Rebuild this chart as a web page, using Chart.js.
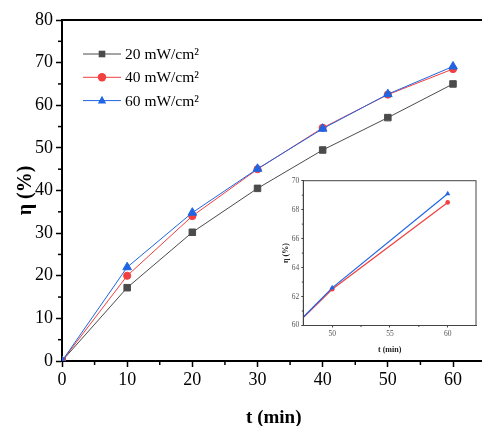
<!DOCTYPE html>
<html><head><meta charset="utf-8">
<script src="https://cdn.jsdelivr.net/npm/chart.js@4.4.0/dist/chart.umd.min.js"></script>
<style>
html,body{margin:0;padding:0;background:#fff;overflow:hidden;width:482px;height:426px;position:relative}
#main{position:absolute;left:0;top:0;width:500px;height:426px}
#inset{position:absolute;left:262px;top:170px;width:218px;height:190px}
</style></head><body>
<div id="main"><canvas id="c1"></canvas></div>
<div id="inset"><canvas id="c2"></canvas></div>
<script>
// ---- data ----
const times = [0, 10, 20, 30, 40, 50, 60];
const eta20 = [0, 17.2, 30.2, 40.5, 49.5, 57.1, 65.0];
const eta40 = [0, 20.0, 34.0, 45.0, 54.7, 62.5, 68.5];
const eta60 = [0, 22.0, 34.8, 45.1, 54.5, 62.6, 69.1];
const seriesLabels = ['20 mW/cm²', '40 mW/cm²', '60 mW/cm²'];
const xTicksMain = [0, 10, 20, 30, 40, 50, 60];
const xMinorMain = [5, 15, 25, 35, 45, 55];
const yTicksMain = [0, 10, 20, 30, 40, 50, 60, 70, 80];
const yMinorMain = [5, 15, 25, 35, 45, 55, 65, 75];
const xTicksInset = [50, 55, 60];
const xMinorInset = [52.5, 57.5];
const yTicksInset = [60, 62, 64, 66, 68, 70];
const yMinorInset = [61, 63, 65, 67, 69];

const SERIF = '"Liberation Serif", "DejaVu Serif", serif';
const colors = ['#4b4b4b', '#f23f3f', '#1f65e3'];
const styles = ['rect', 'circle', 'triangle'];

const pts = arr => times.map((t, i) => ({x: t, y: arr[i]}));

function drawMarker(ctx, style, x, y, r, color) {
  ctx.save();
  ctx.fillStyle = color;
  ctx.beginPath();
  if (style === 'rect') { ctx.rect(x - r, y - r, 2 * r, 2 * r); }
  else if (style === 'circle') { ctx.arc(x, y, r, 0, Math.PI * 2); }
  else {
    ctx.moveTo(x, y - r * 1.15);
    ctx.lineTo(x + r, y + r * 0.7);
    ctx.lineTo(x - r, y + r * 0.7);
    ctx.closePath();
  }
  ctx.fill();
  ctx.restore();
}

const mainExtras = {
  id: 'mainExtras',
  afterDraw(chart) {
    const ctx = chart.ctx, ca = chart.chartArea;
    const xs = chart.scales.x, ys = chart.scales.y;
    ctx.save();
    ctx.strokeStyle = '#000';
    ctx.lineWidth = 2;
    ctx.beginPath(); ctx.moveTo(ca.left - 1, ca.top); ctx.lineTo(ca.right + 20, ca.top); ctx.stroke();
    ctx.lineWidth = 1.5;
    xMinorMain.forEach(v => {
      const px = xs.getPixelForValue(v);
      ctx.beginPath(); ctx.moveTo(px, ca.bottom); ctx.lineTo(px, ca.bottom + 4); ctx.stroke();
    });
    yMinorMain.forEach(v => {
      const py = ys.getPixelForValue(v);
      ctx.beginPath(); ctx.moveTo(ca.left, py); ctx.lineTo(ca.left - 4, py); ctx.stroke();
    });
    // legend
    chart.data.datasets.forEach((ds, i) => {
      const y = 54 + i * 23.3;
      ctx.strokeStyle = ds.borderColor; ctx.lineWidth = 1;
      ctx.beginPath(); ctx.moveTo(83, y); ctx.lineTo(121, y); ctx.stroke();
      drawMarker(ctx, ds.pointStyle, 102, y, ds.pointStyle === 'rect' ? 3.3 : 4.2, ds.pointBackgroundColor);
      ctx.fillStyle = '#000';
      ctx.font = '15.5px ' + SERIF;
      ctx.textBaseline = 'middle';
      ctx.fillText(ds.label, 125, y + 1);
    });
    ctx.restore();
  }
};

new Chart(document.getElementById('c1'), {
  type: 'line',
  data: {
    datasets: [eta20, eta40, eta60].map((arr, i) => ({
      label: seriesLabels[i],
      data: pts(arr),
      borderColor: colors[i],
      backgroundColor: colors[i],
      pointBackgroundColor: colors[i],
      pointBorderColor: colors[i],
      pointBorderWidth: 1,
      pointStyle: styles[i],
      pointRadius: [4.6, 3.6, 5][i],
      borderWidth: 1,
      tension: 0,
      order: 3 - i
    }))
  },
  options: {
    responsive: true,
    maintainAspectRatio: false,
    animation: false,
    layout: {padding: {left: 0, top: 20, right: 14.4, bottom: 0}},
    plugins: {legend: {display: false}, tooltip: {enabled: false}},
    scales: {
      x: {
        type: 'linear', min: 0, max: 65,
        afterBuildTicks: s => { s.ticks = xTicksMain.map(v => ({value: v})); },
        afterFit: s => { s.height = 65; },
        grid: {drawOnChartArea: false, drawTicks: true, tickLength: 6, tickWidth: 1.5, tickColor: '#000'},
        border: {color: '#000', width: 2},
        ticks: {color: '#000', font: {family: SERIF, size: 18}, padding: 2, maxRotation: 0},
        title: {display: true, text: 't (min)', color: '#000', font: {family: SERIF, size: 19, weight: 'bold', lineHeight: 0.82}, padding: 0}
      },
      y: {
        type: 'linear', min: 0, max: 80,
        afterBuildTicks: s => { s.ticks = yTicksMain.map(v => ({value: v})); },
        afterFit: s => { s.width = 62; },
        grid: {drawOnChartArea: false, drawTicks: true, tickLength: 6, tickWidth: 1.5, tickColor: '#000'},
        border: {color: '#000', width: 2},
        ticks: {color: '#000', font: {family: SERIF, size: 18}, padding: 3},
        title: {display: true, text: 'η (%)', color: '#000', font: {family: SERIF, size: 20, weight: 'bold'}, padding: {top: 14, bottom: 0}}
      }
    }
  },
  plugins: [mainExtras]
});

// ---- inset ----
const insetExtras = {
  id: 'insetExtras',
  beforeDraw(chart) {
    const ctx = chart.ctx, ca = chart.chartArea;
    ctx.save(); ctx.fillStyle = '#fff';
    ctx.fillRect(ca.left, ca.top, ca.right - ca.left, ca.bottom - ca.top);
    ctx.restore();
  },
  afterDraw(chart) {
    const ctx = chart.ctx, ca = chart.chartArea;
    const xs = chart.scales.x, ys = chart.scales.y;
    ctx.save();
    ctx.strokeStyle = '#444'; ctx.lineWidth = 1;
    ctx.strokeRect(ca.left, ca.top, ca.right - ca.left, ca.bottom - ca.top);
    xMinorInset.forEach(v => {
      const px = xs.getPixelForValue(v);
      ctx.beginPath(); ctx.moveTo(px, ca.bottom); ctx.lineTo(px, ca.bottom + 1.5); ctx.stroke();
    });
    yMinorInset.forEach(v => {
      const py = ys.getPixelForValue(v);
      ctx.beginPath(); ctx.moveTo(ca.left, py); ctx.lineTo(ca.left - 1.5, py); ctx.stroke();
    });
    ctx.restore();
  }
};

new Chart(document.getElementById('c2'), {
  type: 'line',
  data: {
    datasets: [eta40, eta60].map((arr, i) => ({
      label: seriesLabels[i + 1],
      data: pts(arr),
      borderColor: colors[i + 1],
      backgroundColor: colors[i + 1],
      pointBackgroundColor: colors[i + 1],
      pointBorderColor: colors[i + 1],
      pointBorderWidth: 0,
      pointStyle: styles[i + 1],
      pointRadius: [2.3, 3][i],
      borderWidth: 1.2,
      tension: 0,
      order: 2 - i
    }))
  },
  options: {
    responsive: true,
    maintainAspectRatio: false,
    animation: false,
    layout: {padding: {left: 0, top: 10.7, right: 3.3, bottom: 0}},
    plugins: {legend: {display: false}, tooltip: {enabled: false}},
    scales: {
      x: {
        type: 'linear', min: 47.5, max: 62.45,
        afterBuildTicks: s => { s.ticks = xTicksInset.map(v => ({value: v})); },
        afterFit: s => { s.height = 34.5; },
        grid: {drawOnChartArea: false, drawTicks: true, tickLength: 2, tickWidth: 1, tickColor: '#444'},
        border: {color: '#444', width: 1},
        ticks: {color: '#555', font: {family: SERIF, size: 7.5}, padding: 2, maxRotation: 0},
        title: {display: true, text: 't (min)', color: '#222', font: {family: SERIF, size: 8, weight: 'bold'}, padding: {top: 0, bottom: 5}}
      },
      y: {
        type: 'linear', min: 60, max: 70,
        afterBuildTicks: s => { s.ticks = yTicksInset.map(v => ({value: v})); },
        afterFit: s => { s.width = 41.3; },
        grid: {drawOnChartArea: false, drawTicks: true, tickLength: 2, tickWidth: 1, tickColor: '#444'},
        border: {color: '#444', width: 1},
        ticks: {color: '#555', font: {family: SERIF, size: 7.5}, padding: 2},
        title: {display: true, text: 'η (%)', color: '#222', font: {family: SERIF, size: 8, weight: 'bold'}, padding: {top: 18.7, bottom: 0}}
      }
    }
  },
  plugins: [insetExtras]
});
</script>
</body></html>
